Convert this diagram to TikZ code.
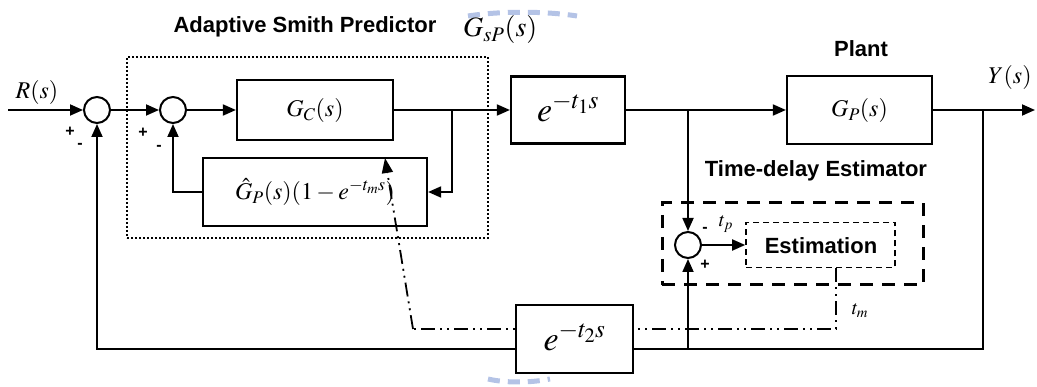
\documentclass[tikz,border=0pt]{standalone}
\usepackage{mathptmx}
\usepackage[no-math]{fontspec}
\newfontfamily\lsans{Liberation Sans}
\usetikzlibrary{arrows.meta}
\definecolor{wmblue}{RGB}{180,195,230}
\begin{document}
\begin{tikzpicture}[x=1pt,y=-1pt,
  ln/.style={line width=1.8pt},
  arr/.style={ln,-{Triangle[length=13pt,width=11pt]}},
  blk/.style={draw,line width=2.2pt,fill=white,inner sep=0pt},
  sumc/.style={draw,circle,line width=2pt,minimum size=26pt,inner sep=0pt,fill=white},
  lbl/.style={font=\lsans\bfseries\fontsize{22}{26}\selectfont,inner sep=0pt},
  sgn/.style={font=\lsans\bfseries\fontsize{16}{18}\selectfont,inner sep=0pt},
  mth/.style={font=\fontsize{24}{28}\selectfont,inner sep=0pt},
  ddot/.style={line width=1.8pt,dash pattern=on 14pt off 5pt on 2pt off 5pt on 2pt off 5pt},
  wm/.style={wmblue,line width=5pt,dash pattern=on 12pt off 8pt},
]
\useasboundingbox (0,0) rectangle (1037,387);

% watermark fragments
\draw[wm] (468,16) .. controls (500,11) and (545,11) .. (577,16);
\draw[wm] (488,379) .. controls (505,383) and (530,383) .. (550,379);

% dotted predictor box
\node[draw,line width=2pt,dash pattern=on 2pt off 2pt,minimum width=361pt,minimum height=181pt,inner sep=0pt] (asb) at (307.5,147.5) {};

% summing junctions
\node[sumc] (s1) at (97,110) {};
\node[sumc] (s2) at (173,110) {};
\node[sumc] (s3) at (688,245) {};

% blocks
\node[blk,minimum width=156pt,minimum height=60pt] (gc) at (315,110) {};
\node[mth] (gct) at (315,111) {$G_C(s)$};
\node[blk,minimum width=224pt,minimum height=68pt] (gh) at (315,192) {};
\node[mth] (ght) at (315,192) {$\hat{G}_P(s)(1-e^{-t_m s})$};
\node[blk,minimum width=114pt,minimum height=67pt] (e1) at (568,110) {};
\node[font=\fontsize{34}{40}\selectfont,inner sep=0pt] (e1t) at (568,108) {$e^{-t_1 s}$};
\node[blk,minimum width=145pt,minimum height=68pt] (gp) at (859.5,110) {};
\node[mth] (gpt) at (859.5,111) {$G_P(s)$};

% estimator
\node[draw,line width=3pt,dash pattern=on 13pt off 9pt,minimum width=261pt,minimum height=82pt,inner sep=0pt] (tdb) at (792.5,244) {};
\node[draw,line width=1.6pt,dash pattern=on 6pt off 4pt,minimum width=149pt,minimum height=45pt,inner sep=0pt] (est) at (820.5,245) {};
\node[lbl] (estt) at (821,246) {Estimation};

% coordinates
\coordinate (rin) at (8,110);
\coordinate (b1) at (452,110);
\coordinate (b2) at (688,110);
\coordinate (b3) at (983,110);
\coordinate (yout) at (1035,110);
\coordinate (bl) at (983,349);
\coordinate (b4) at (688,349);
\coordinate (tmc) at (836,329);
\coordinate (dcorner) at (413,329);
\coordinate (dtip) at (385,158);

% time-delay estimate path (dash-dot)
\draw[ddot] (tmc |- est.south) -- (tmc) -- (dcorner);
\draw[ddot,-{Triangle[length=15pt,width=11pt]}] (dcorner) -- (dtip);

% delay block on the bottom path (covers the dash-dot line)
\node[blk,minimum width=117pt,minimum height=68pt] (e2) at (574.5,339) {};
\node[font=\fontsize{34}{40}\selectfont,inner sep=0pt] (e2t) at (574.5,337) {$e^{-t_2 s}$};

% connectors
\draw[arr] (rin) -- (s1);
\draw[arr] (s1) -- (s2);
\draw[arr] (s2) -- (gc);
\draw[arr] (gc) -- (e1);
\draw[arr] (b1) |- (gh.east);
\draw[arr] (gh.west) -| (s2.south);
\draw[arr] (e1) -- (gp);
\draw[arr] (b2) -- (s3);
\draw[arr] (gp) -- (yout);
\draw[ln] (b3) -- (bl) -- (bl -| e2.east);
\draw[arr] (bl -| e2.west) -| (s1.south);
\draw[arr] (b4) -- (s3);
\draw[arr] (s3) -- (est.west |- s3);

% labels
\node[mth] (rl) at (37,93) {$R(s)$};
\node[mth] (yl) at (1010,78) {$Y(s)$};
\node[lbl] (asp) at (305,27) {Adaptive Smith Predictor};
\node[font=\fontsize{28}{32}\selectfont,anchor=base west,inner sep=0pt] (gsp) at (463,37) {$G_{sP}(s)$};
\node[lbl] (plant) at (861,49) {Plant};
\node[lbl] (tde) at (816,171) {Time-delay Estimator};
\node[font=\fontsize{20}{24}\selectfont,inner sep=0pt] (tp) at (726,224) {$t_p$};
\node[font=\fontsize{20}{24}\selectfont,inner sep=0pt] (tm) at (860,311) {$t_m$};
\node[sgn] (p1) at (70,132) {+};
\node[sgn] (m1) at (80,146) {-};
\node[sgn] (p2) at (143,133) {+};
\node[sgn] (m2) at (159,148) {-};
\node[sgn] (m3) at (705,230) {-};
\node[sgn] (p3) at (705,265) {+};
\end{tikzpicture}
\end{document}
